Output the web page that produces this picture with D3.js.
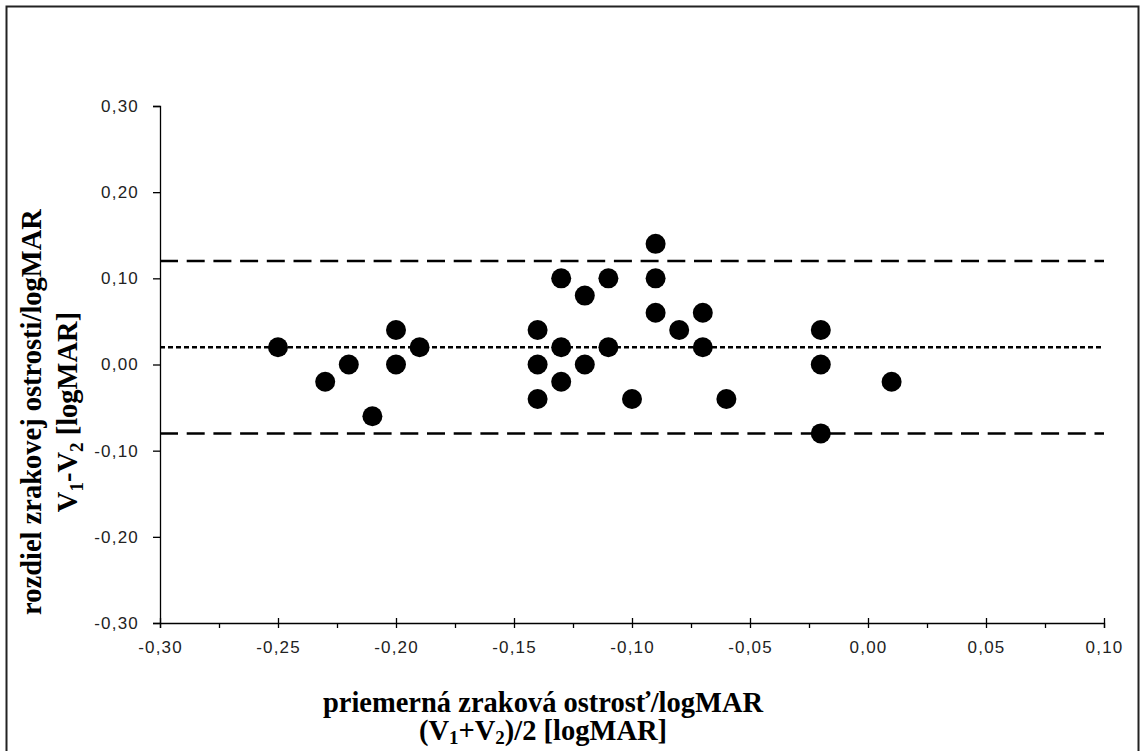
<!DOCTYPE html>
<html lang="sk">
<head>
<meta charset="UTF-8">
<title>Bland-Altman</title>
<script src="https://d3js.org/d3.v7.min.js"></script>
<style>
  body { margin: 0; background: #fff; }
  .title { font-family: "Liberation Serif", "Times New Roman", serif; font-weight: bold; font-size: 28.5px; fill: #000; }
</style>
</head>
<body>
<div id="chart"></div>
<script>
// data: mean (x) and difference (y)
const meanVals = [-0.25, -0.23, -0.22, -0.21, -0.20, -0.20, -0.19,
  -0.14, -0.14, -0.14, -0.13, -0.13, -0.13, -0.12, -0.12, -0.11, -0.11, -0.10,
  -0.09, -0.09, -0.09, -0.08, -0.07, -0.07, -0.06, -0.02, -0.02, -0.02, 0.01];
const diffVals = [0.02, -0.02, 0.00, -0.06, 0.04, 0.00, 0.02,
  0.04, 0.00, -0.04, 0.10, 0.02, -0.02, 0.08, 0.00, 0.10, 0.02, -0.04,
  0.14, 0.10, 0.06, 0.04, 0.06, 0.02, -0.04, 0.04, 0.00, -0.08, -0.02];
const meanDiff = 0.02;
const limits = [0.12, -0.08];
const xTicks = [-0.30, -0.25, -0.20, -0.15, -0.10, -0.05, 0.00, 0.05, 0.10];
const xMinor = [-0.275, -0.225, -0.175, -0.125, -0.075, -0.025, 0.025, 0.075];
const yTicks = [-0.30, -0.20, -0.10, 0.00, 0.10, 0.20, 0.30];

const W = 1140, H = 751;
const fmt = d => d3.format(".2f")(d).replace(".", ",").replace("−", "-");

const svg = d3.select("#chart").append("svg")
  .attr("width", W).attr("height", H);

// outer frame
svg.append("rect")
  .attr("x", 6.5).attr("y", 6.5).attr("width", 1132).attr("height", 760)
  .attr("fill", "none").attr("stroke", "#222").attr("stroke-width", 2);

const x = d3.scaleLinear().domain([-0.30, 0.10]).range([160, 1104]);
const y = d3.scaleLinear().domain([-0.30, 0.30]).range([623, 106]);

// axes
const gx = svg.append("g").attr("transform", "translate(0,623)")
  .call(d3.axisBottom(x).tickValues(xTicks).tickFormat(fmt).tickSize(5).tickPadding(13));
gx.selectAll(".tick line").attr("y1", -5);
svg.append("g").attr("transform", "translate(0,623)")
  .call(d3.axisBottom(x).tickValues(xMinor).tickFormat("").tickSize(5))
  .call(g => g.select(".domain").remove());

svg.append("g").attr("transform", "translate(160,0)")
  .call(d3.axisLeft(y).tickValues(yTicks).tickFormat(fmt).tickSize(7).tickPadding(14));

svg.selectAll(".domain").attr("stroke", "#000").attr("stroke-width", 1.3);
svg.selectAll(".tick line").attr("stroke", "#000").attr("stroke-width", 1.3);
svg.selectAll(".tick text")
  .attr("font-family", "'Liberation Sans', Arial, sans-serif")
  .attr("font-size", 17)
  .attr("font-weight", "normal")
  .attr("letter-spacing", 1.2)
  .attr("fill", "#222");

// reference lines
svg.append("line")
  .attr("x1", x(-0.30)).attr("x2", x(0.10))
  .attr("y1", y(meanDiff)).attr("y2", y(meanDiff))
  .attr("stroke", "#000").attr("stroke-width", 2.5).attr("stroke-dasharray", "5,3");
svg.selectAll(".limit").data(limits).join("line")
  .attr("class", "limit")
  .attr("x1", x(-0.30)).attr("x2", x(0.10))
  .attr("y1", d => y(d)).attr("y2", d => y(d))
  .attr("stroke", "#000").attr("stroke-width", 2.5).attr("stroke-dasharray", "18,8.7");

// points
svg.selectAll(".pt").data(meanVals).join("circle")
  .attr("class", "pt")
  .attr("cx", d => x(d))
  .attr("cy", (d, i) => y(diffVals[i]))
  .attr("r", 10)
  .attr("fill", "#000");

// x title
const xt = svg.append("text").attr("class", "title").attr("text-anchor", "middle");
xt.append("tspan").attr("x", 543).attr("y", 712).text("priemerná zraková ostrosť/logMAR");
const xt2 = xt.append("tspan").attr("x", 543).attr("y", 740);
xt2.append("tspan").text("(V");
xt2.append("tspan").attr("font-size", 19).attr("dy", 4).text("1");
xt2.append("tspan").attr("dy", -4).text("+V");
xt2.append("tspan").attr("font-size", 19).attr("dy", 4).text("2");
xt2.append("tspan").attr("dy", -4).text(")/2 [logMAR]");

// y title
const yt = svg.append("text").attr("class", "title").attr("text-anchor", "middle")
  .attr("font-size", 30)
  .attr("transform", "translate(0,412) rotate(-90)");
yt.append("tspan").attr("x", 0).attr("y", 41).text("rozdiel zrakovej ostrosti/logMAR");
const yt2 = yt.append("tspan").attr("x", 0).attr("y", 77);
yt2.append("tspan").text("V");
yt2.append("tspan").attr("font-size", 19).attr("dy", 6).text("1");
yt2.append("tspan").attr("dy", -6).text("-V");
yt2.append("tspan").attr("font-size", 19).attr("dy", 6).text("2");
yt2.append("tspan").attr("dy", -6).text(" [logMAR]");
</script>
</body>
</html>
